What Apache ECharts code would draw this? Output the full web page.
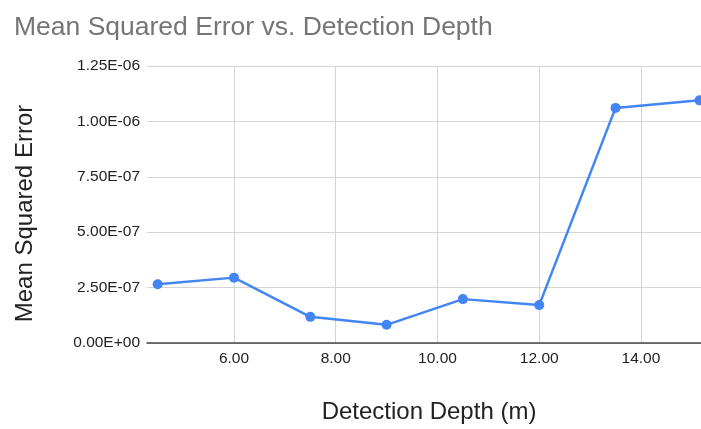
<!DOCTYPE html>
<html>
<head>
<meta charset="utf-8">
<script src="https://cdn.jsdelivr.net/npm/echarts@6/dist/echarts.min.js"></script>
<style>html,body{margin:0;padding:0;background:#fff}#c{width:701px;height:429px}</style>
</head>
<body>
<div id="c"></div>
<script>
const depths = [4.5, 6, 7.5, 9, 10.5, 12, 13.5, 15.15];
const mse = [2.65e-7, 2.95e-7, 1.18e-7, 0.82e-7, 1.98e-7, 1.71e-7, 1.061e-6, 1.095e-6];
const xTicks = [6, 8, 10, 12, 14];
const yTicks = [0, 2.5e-7, 5e-7, 7.5e-7, 1e-6, 1.25e-6];

function sci(v) {
  const s = Number(v).toExponential(2);
  const parts = s.split('e');
  let exp = parseInt(parts[1], 10);
  const sign = exp < 0 ? '-' : '+';
  exp = Math.abs(exp);
  return parts[0] + 'E' + sign + (exp < 10 ? '0' + exp : '' + exp);
}

const font = 'Liberation Sans, Arial, sans-serif';
const chart = echarts.init(document.getElementById('c'));
chart.setOption({
  animation: false,
  backgroundColor: '#fff',
  title: {
    text: 'Mean Squared Error vs. Detection Depth',
    left: 9, top: 9,
    textStyle: {fontFamily: font, fontSize: 26.5, fontWeight: 'normal', color: '#757575'}
  },
  grid: {left: 147, right: 0, top: 66, bottom: 80, containLabel: false},
  xAxis: {
    type: 'value',
    min: 4.29, max: 15.18,
    name: 'Detection Depth (m)',
    nameLocation: 'middle',
    nameGap: 57,
    nameTextStyle: {fontFamily: font, fontSize: 24, color: '#222', padding: [0, 0, 0, 10]},
    axisLine: {show: true, lineStyle: {color: '#444', width: 1.5}},
    axisTick: {show: false, customValues: xTicks},
    axisLabel: {customValues: xTicks, formatter: v => Number(v).toFixed(2), fontFamily: font, fontSize: 15.5, color: '#222', margin: 8},
    splitLine: {show: true, lineStyle: {color: '#d4d4d4', width: 1}}
  },
  yAxis: {
    type: 'value',
    min: 0, max: 1.25e-6, interval: 2.5e-7,
    name: 'Mean Squared Error',
    nameLocation: 'middle',
    nameGap: 110,
    nameRotate: 90,
    nameTextStyle: {fontFamily: font, fontSize: 24, color: '#222', padding: [0, 18, 0, 0]},
    axisLine: {show: false},
    axisTick: {show: false},
    axisLabel: {formatter: v => sci(v), fontFamily: font, fontSize: 15.5, color: '#222', margin: 7},
    splitLine: {show: true, lineStyle: {color: '#d4d4d4', width: 1}}
  },
  series: [{
    type: 'line',
    data: depths.map((d, i) => [d, mse[i]]),
    symbol: 'circle',
    symbolSize: 10,
    clip: false,
    lineStyle: {color: '#4285F4', width: 2.5},
    itemStyle: {color: '#4285F4'}
  }]
});
</script>
</body>
</html>
